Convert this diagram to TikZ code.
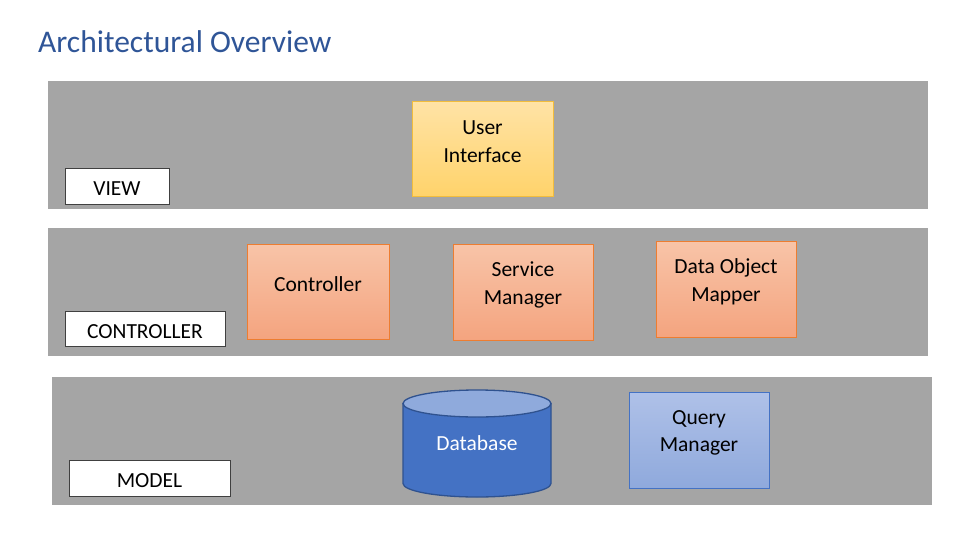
\documentclass[tikz,border=0pt]{standalone}
\usepackage{fontspec}
\setmainfont{Carlito}
\definecolor{band}{HTML}{A5A5A5}
\definecolor{titleblue}{HTML}{2F5597}
\definecolor{orangeTop}{HTML}{F8C4A8}
\definecolor{orangeBot}{HTML}{F4A47F}
\definecolor{orangeEdge}{HTML}{ED7D31}
\definecolor{yellowTop}{HTML}{FFE3A6}
\definecolor{yellowBot}{HTML}{FFD36B}
\definecolor{yellowEdge}{HTML}{F2BD3C}
\definecolor{blueTop}{HTML}{AFC1E8}
\definecolor{blueBot}{HTML}{8FA9DC}
\definecolor{blueEdge}{HTML}{4472C4}
\definecolor{dbBody}{HTML}{4472C4}
\definecolor{dbTop}{HTML}{8FAADC}
\definecolor{dbEdge}{HTML}{2F528F}
\tikzset{
  layer/.style={fill=band, draw=none},
  tag/.style={draw=black!75, fill=white, line width=0.8pt, inner sep=0pt, text height=19.5pt, text depth=0pt, font=\fontsize{21.5}{26}\selectfont},
  orangebox/.style={draw=orangeEdge, line width=1pt, top color=orangeTop, bottom color=orangeBot, inner sep=0pt},
  yellowbox/.style={draw=yellowEdge, line width=1pt, top color=yellowTop, bottom color=yellowBot, inner sep=0pt},
  bluebox/.style={draw=blueEdge, line width=1pt, top color=blueTop, bottom color=blueBot, inner sep=0pt},
  boxtext/.style={align=center, font=\fontsize{21.5}{27.5}\selectfont, inner sep=0pt}
}
\begin{document}
\begin{tikzpicture}[x=1pt,y=-1pt]
\useasboundingbox (0,0) rectangle (975,549);
% title
\node[anchor=base west, text=titleblue, font=\fontsize{31.5}{36}\selectfont, inner sep=0pt] (title) at (38,52) {Architectural Overview};
% layers
\path[layer] (48,81) rectangle (928,209);
\path[layer] (48,228) rectangle (928,356);
\path[layer] (52,377) rectangle (932,505);
% tags
\node[tag, minimum width=104pt, minimum height=36pt] (vtag) at (117,186) {VIEW};
\node[tag, minimum width=160pt, minimum height=35pt] (ctag) at (145,328.5) {CONTROLLER};
\node[tag, minimum width=161pt, minimum height=36pt] (mtag) at (149.5,478) {MODEL};
% view
\node[yellowbox, minimum width=141pt, minimum height=95pt] (ui) at (482.5,148.5) {};
\node[boxtext] (uit) at ([yshift=7pt]ui.center) {User\\Interface};
% controller
\node[orangebox, minimum width=142pt, minimum height=95pt] (ctrl) at (318,291.5) {};
\node[boxtext] (ctrlt) at ([yshift=7pt]ctrl.center) {Controller};
\node[orangebox, minimum width=140pt, minimum height=96pt] (sm) at (523,292) {};
\node[boxtext] (smt) at ([yshift=7pt]sm.center) {Service\\Manager};
\node[orangebox, minimum width=140pt, minimum height=96pt] (dom) at (726,289) {};
\node[boxtext] (domt) at ([yshift=7pt]dom.center) {Data Object\\Mapper};
% model
\filldraw[fill=dbBody, draw=dbEdge, line width=1.3pt]
  (403,403.5) -- (403,483.5) arc[start angle=180, end angle=360, x radius=74pt, y radius=13.5pt] -- (551,403.5) -- cycle;
\filldraw[fill=dbTop, draw=dbEdge, line width=1.3pt] (477,403.5) ellipse[x radius=74pt, y radius=13.5pt];
\node[boxtext, text=white] (db) at (477,443) {Database};
\node[bluebox, minimum width=140pt, minimum height=96pt] (qm) at (699,440) {};
\node[boxtext] (qmt) at ([yshift=7pt]qm.center) {Query\\Manager};
\end{tikzpicture}
\end{document}
